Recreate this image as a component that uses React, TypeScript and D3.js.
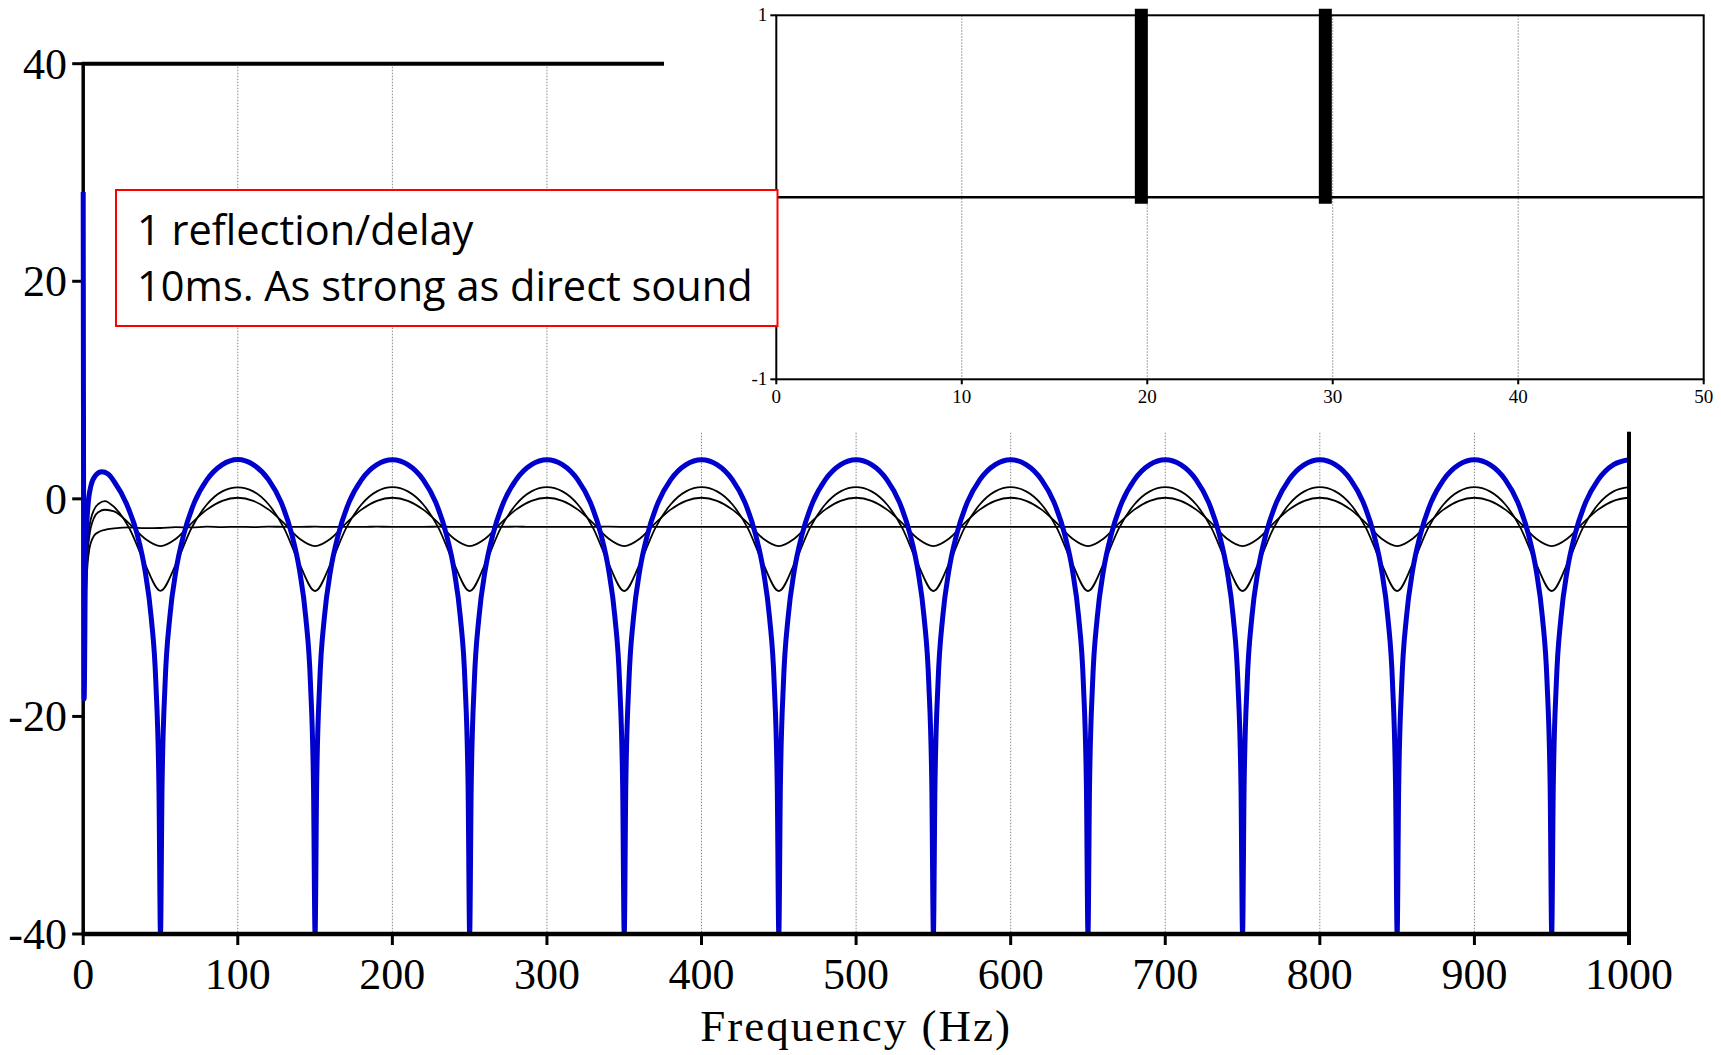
import React from 'react';
import * as d3 from 'd3';

const W = 1721;
const H = 1055;

// axis ticks
const freqTicks = [0, 100, 200, 300, 400, 500, 600, 700, 800, 900, 1000];
const dbTicks = [40, 20, 0, -20, -40];
const gridFreqs = [100, 200, 300, 400, 500, 600, 700, 800, 900];
const insetMsTicks = [0, 10, 20, 30, 40, 50];
const insetGridMs = [10, 20, 30, 40];
const insetAmpTicks = [1, -1];

// impulse response (inset)
const impulseMs = [19.68, 29.6];
const impulseAmp = [1, 1];

// blue: 1 reflection, equal strength (freq Hz, dB)
const blueCurve: [number, number][] = [
  [0, 28.2], [0.6, -18.4], [1.5, -5.5], [3, -0.8], [5, 1.2], [8, 2.15], [12, 2.48], [16, 2.3], [20, 1.6],
  [28, -0.45], [35, -3.3], [40, -6.6], [44, -10.9], [47, -16.9], [49, -26.5], [50, -40],
  [51, -26.5], [53, -16.9], [56, -10.9], [60, -6.6], [65, -3.3], [72, -0.3], [80, 1.75], [90, 3.15], [100, 3.62],
  [110, 3.15], [120, 1.75], [128, -0.3], [135, -3.3], [140, -6.6], [144, -10.9], [147, -16.9], [149, -26.5], [150, -40],
  [151, -26.5], [153, -16.9], [156, -10.9], [160, -6.6], [165, -3.3], [172, -0.3], [180, 1.75], [190, 3.15], [200, 3.6],
  [210, 3.15], [220, 1.75], [228, -0.3], [235, -3.3], [240, -6.6], [244, -10.9], [247, -16.9], [249, -26.5], [250, -40],
  [251, -26.5], [253, -16.9], [256, -10.9], [260, -6.6], [265, -3.3], [272, -0.3], [280, 1.75], [290, 3.15], [300, 3.6],
  [310, 3.15], [320, 1.75], [328, -0.3], [335, -3.3], [340, -6.6], [344, -10.9], [347, -16.9], [349, -26.5], [350, -40],
  [351, -26.5], [353, -16.9], [356, -10.9], [360, -6.6], [365, -3.3], [372, -0.3], [380, 1.75], [390, 3.15], [400, 3.6],
  [410, 3.15], [420, 1.75], [428, -0.3], [435, -3.3], [440, -6.6], [444, -10.9], [447, -16.9], [449, -26.5], [450, -40],
  [451, -26.5], [453, -16.9], [456, -10.9], [460, -6.6], [465, -3.3], [472, -0.3], [480, 1.75], [490, 3.15], [500, 3.6],
  [510, 3.15], [520, 1.75], [528, -0.3], [535, -3.3], [540, -6.6], [544, -10.9], [547, -16.9], [549, -26.5], [550, -40],
  [551, -26.5], [553, -16.9], [556, -10.9], [560, -6.6], [565, -3.3], [572, -0.3], [580, 1.75], [590, 3.15], [600, 3.6],
  [610, 3.15], [620, 1.75], [628, -0.3], [635, -3.3], [640, -6.6], [644, -10.9], [647, -16.9], [649, -26.5], [650, -40],
  [651, -26.5], [653, -16.9], [656, -10.9], [660, -6.6], [665, -3.3], [672, -0.3], [680, 1.75], [690, 3.15], [700, 3.6],
  [710, 3.15], [720, 1.75], [728, -0.3], [735, -3.3], [740, -6.6], [744, -10.9], [747, -16.9], [749, -26.5], [750, -40],
  [751, -26.5], [753, -16.9], [756, -10.9], [760, -6.6], [765, -3.3], [772, -0.3], [780, 1.75], [790, 3.15], [800, 3.6],
  [810, 3.15], [820, 1.75], [828, -0.3], [835, -3.3], [840, -6.6], [844, -10.9], [847, -16.9], [849, -26.5], [850, -40],
  [851, -26.5], [853, -16.9], [856, -10.9], [860, -6.6], [865, -3.3], [872, -0.3], [880, 1.75], [890, 3.15], [900, 3.6],
  [910, 3.15], [920, 1.75], [928, -0.3], [935, -3.3], [940, -6.6], [944, -10.9], [947, -16.9], [949, -26.5], [950, -40],
  [951, -26.5], [953, -16.9], [956, -10.9], [960, -6.6], [965, -3.3], [972, -0.3], [980, 1.75], [990, 3.15], [1000, 3.6],
];

// black curves share one frequency grid
const blackHz = [0.5, 2, 4, 7, 10, 14].concat(d3.range(20, 1001, 10));

// reflection at half strength
const halfRefl = [
  -14, -6, -2.6, -1.0, -0.45, -0.2,
  -0.75, -2.75, -6.0, -8.45, -6.0, -2.7, -0.52, 0.69, 1.06,
  0.69, -0.52, -2.71, -6.01, -8.47, -6.01, -2.71, -0.52, 0.69, 1.07,
  0.69, -0.52, -2.71, -6.01, -8.47, -6.01, -2.71, -0.52, 0.69, 1.07,
  0.69, -0.52, -2.71, -6.01, -8.47, -6.01, -2.71, -0.52, 0.69, 1.07,
  0.69, -0.52, -2.71, -6.01, -8.47, -6.01, -2.71, -0.52, 0.69, 1.07,
  0.69, -0.52, -2.71, -6.01, -8.47, -6.01, -2.71, -0.52, 0.69, 1.07,
  0.69, -0.52, -2.71, -6.01, -8.47, -6.01, -2.71, -0.52, 0.69, 1.07,
  0.69, -0.52, -2.71, -6.01, -8.47, -6.01, -2.71, -0.52, 0.69, 1.07,
  0.69, -0.52, -2.71, -6.01, -8.47, -6.01, -2.71, -0.52, 0.69, 1.07,
  0.69, -0.52, -2.71, -6.01, -8.47, -6.01, -2.71, -0.52, 0.69, 1.07,
];

// reflection at quarter strength
const quarterRefl = [
  -15, -7, -3.4, -1.75, -1.2, -1.0,
  -1.15, -2.3, -3.66, -4.34, -3.66, -2.26, -0.99, -0.18, 0.1,
  -0.18, -0.99, -2.26, -3.66, -4.34, -3.66, -2.26, -0.99, -0.18, 0.1,
  -0.18, -0.99, -2.26, -3.66, -4.34, -3.66, -2.26, -0.99, -0.18, 0.1,
  -0.18, -0.99, -2.26, -3.66, -4.34, -3.66, -2.26, -0.99, -0.18, 0.1,
  -0.18, -0.99, -2.26, -3.66, -4.34, -3.66, -2.26, -0.99, -0.18, 0.1,
  -0.18, -0.99, -2.26, -3.66, -4.34, -3.66, -2.26, -0.99, -0.18, 0.1,
  -0.18, -0.99, -2.26, -3.66, -4.34, -3.66, -2.26, -0.99, -0.18, 0.1,
  -0.18, -0.99, -2.26, -3.66, -4.34, -3.66, -2.26, -0.99, -0.18, 0.1,
  -0.18, -0.99, -2.26, -3.66, -4.34, -3.66, -2.26, -0.99, -0.18, 0.1,
  -0.18, -0.99, -2.26, -3.66, -4.34, -3.66, -2.26, -0.99, -0.18, 0.1,
];

// direct sound only
const directOnly = [
  -16, -8, -4.6, -3.4, -3.05, -2.85,
  -2.72, -2.62, -2.7, -2.68, -2.6, -2.63, -2.56, -2.6, -2.57,
  -2.6, -2.55, -2.58, -2.57, -2.56, -2.58, -2.57, -2.57, -2.56, -2.57,
  -2.58, -2.57, -2.56, -2.57, -2.57, -2.58, -2.57, -2.56, -2.57, -2.57,
  -2.57, -2.57, -2.57, -2.56, -2.57, -2.57, -2.57, -2.57, -2.57, -2.57,
  -2.57, -2.57, -2.57, -2.57, -2.57, -2.57, -2.57, -2.57, -2.57, -2.57,
  -2.57, -2.57, -2.57, -2.57, -2.57, -2.57, -2.57, -2.57, -2.57, -2.57,
  -2.57, -2.57, -2.57, -2.57, -2.57, -2.57, -2.57, -2.57, -2.57, -2.57,
  -2.57, -2.57, -2.57, -2.57, -2.57, -2.57, -2.57, -2.57, -2.57, -2.57,
  -2.57, -2.57, -2.57, -2.57, -2.57, -2.57, -2.57, -2.57, -2.57, -2.57,
  -2.57, -2.57, -2.57, -2.57, -2.57, -2.57, -2.57, -2.57, -2.57, -2.57,
];

const noteLines = ['1 reflection/delay', '10ms. As strong as direct sound'];

const SERIF = '"Liberation Serif", "Times New Roman", serif';

export default function App() {
  // main frequency response
  const x = d3.scaleLinear().domain([0, 1000]).range([83.2, 1629]);
  const y = d3.scaleLinear().domain([-40, 40]).range([934, 63.7]);

  // inset impulse response
  const ix = d3.scaleLinear().domain([0, 50]).range([776.3, 1703.7]);
  const iy = d3.scaleLinear().domain([-1, 1]).range([379.3, 15.3]);

  const line = d3.line<[number, number]>()
    .x(d => x(d[0]))
    .y(d => y(d[1]))
    .curve(d3.curveMonotoneX);

  const blackSeries = [halfRefl, quarterRefl, directOnly].map(vals =>
    blackHz.map((f, i) => [f, vals[i]] as [number, number]));

  const insetLeft = 664;
  const insetBottom = 431.7;

  return (
    <svg width={W} height={H} style={{ position: 'absolute', left: 0, top: 0, background: '#fff' }}>
      <defs>
        <clipPath id="plotClip">
          <rect x={x(0) - 4} y={0} width={x(1000) - x(0) + 8} height={y(-40)} />
        </clipPath>
      </defs>
      <rect x={0} y={0} width={W} height={H} fill="#fff" />

      {/* main grid */}
      {gridFreqs.map(f => (
        <line key={'g' + f} x1={x(f)} x2={x(f)} y1={y(40)} y2={y(-40)}
          stroke="#888" strokeWidth={1} strokeDasharray="1.5 1.5" />
      ))}

      {/* top border at 40 dB */}
      <line x1={x(0) - 1.5} x2={insetLeft} y1={y(40)} y2={y(40)} stroke="#000" strokeWidth={4} />

      {/* left axis */}
      <line x1={x(0)} x2={x(0)} y1={y(40)} y2={y(-40)} stroke="#000" strokeWidth={3.5} />
      {dbTicks.map(v => (
        <g key={'yt' + v}>
          <line x1={x(0) - 11} x2={x(0)} y1={y(v)} y2={y(v)} stroke="#000" strokeWidth={3} />
          <text x={67} y={y(v) + 15} textAnchor="end" fontFamily={SERIF} fontSize={44}>{v}</text>
        </g>
      ))}

      {/* curves */}
      <g clipPath="url(#plotClip)">
        {blackSeries.map((s, i) => (
          <path key={'b' + i} d={line(s) || ''} fill="none" stroke="#000" strokeWidth={1.8} />
        ))}
        <path d={line(blueCurve) || ''} fill="none" stroke="#0000cd" strokeWidth={5} />
      </g>

      {/* bottom + right axis */}
      <line x1={x(0) - 1.5} x2={x(1000) + 2} y1={y(-40)} y2={y(-40)} stroke="#000" strokeWidth={4.5} />
      <line x1={x(1000)} x2={x(1000)} y1={y(40)} y2={y(-40) + 11} stroke="#000" strokeWidth={4} />
      {freqTicks.map(f => (
        <g key={'xt' + f}>
          <line x1={x(f)} x2={x(f)} y1={y(-40)} y2={y(-40) + 11} stroke="#000" strokeWidth={f === 1000 ? 4 : 3} />
          <text x={x(f)} y={989} textAnchor="middle" fontFamily={SERIF} fontSize={44}>{f}</text>
        </g>
      ))}
      <text x={(x(0) + x(1000)) / 2} y={1041} textAnchor="middle" fontFamily={SERIF} fontSize={45}
        letterSpacing={2}>Frequency (Hz)</text>

      {/* inset: impulse response */}
      <rect x={insetLeft} y={0} width={W - insetLeft} height={insetBottom} fill="#fff" />
      {insetGridMs.map(t => (
        <line key={'ig' + t} x1={ix(t)} x2={ix(t)} y1={iy(1)} y2={iy(-1)}
          stroke="#888" strokeWidth={1} strokeDasharray="1.5 1.5" />
      ))}
      <rect x={ix(0)} y={iy(1)} width={ix(50) - ix(0)} height={iy(-1) - iy(1)}
        fill="none" stroke="#000" strokeWidth={2} />
      <line x1={ix(0)} x2={ix(50)} y1={iy(0)} y2={iy(0)} stroke="#000" strokeWidth={2.5} />
      {impulseMs.map((t, i) => (
        <line key={'imp' + i} x1={ix(t)} x2={ix(t)} y1={iy(0)} y2={iy(impulseAmp[i])}
          stroke="#000" strokeWidth={13} strokeLinecap="square" />
      ))}
      {insetAmpTicks.map(v => (
        <g key={'iyt' + v}>
          <line x1={ix(0) - 6} x2={ix(0)} y1={iy(v)} y2={iy(v)} stroke="#000" strokeWidth={2} />
          <text x={ix(0) - 9} y={iy(v) + 6} textAnchor="end" fontFamily={SERIF} fontSize={19}>{v}</text>
        </g>
      ))}
      {insetMsTicks.map(t => (
        <g key={'ixt' + t}>
          <line x1={ix(t)} x2={ix(t)} y1={iy(-1)} y2={iy(-1) + 5} stroke="#000" strokeWidth={2} />
          <text x={ix(t)} y={403} textAnchor="middle" fontFamily={SERIF} fontSize={19}>{t}</text>
        </g>
      ))}

      {/* annotation box */}
      <rect x={116} y={190} width={661.5} height={136} fill="#fff" stroke="#f00" strokeWidth={2} />
      {noteLines.map((s, i) => (
        <text key={'n' + i} x={137} y={244.5 + i * 56} fontFamily='"Open Sans", sans-serif' fontSize={41.5}
          fill="#000">{s}</text>
      ))}
    </svg>
  );
}
